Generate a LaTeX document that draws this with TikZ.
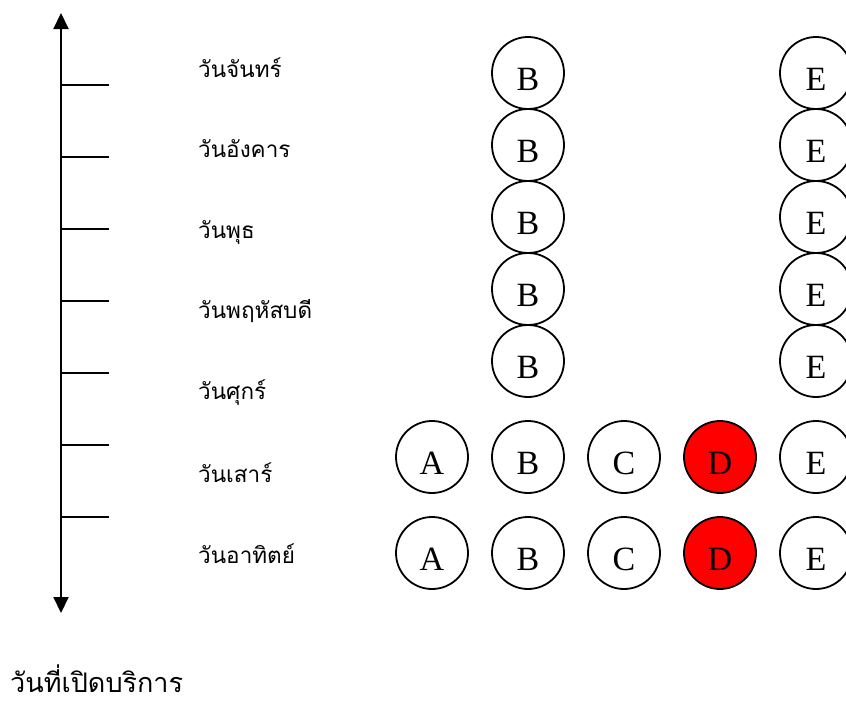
\documentclass[tikz,border=0pt]{standalone}
\usepackage{fontspec}
\newfontfamily\thaifont[Script=Thai]{Loma}
\newfontfamily\letterfont{Liberation Serif}
\usetikzlibrary{arrows.meta}
\definecolor{dred}{RGB}{255,0,0}
\tikzset{
  day/.style={circle, draw, line width=1.8pt, minimum size=72pt, inner sep=0pt,
    font=\letterfont\fontsize{34}{40}\selectfont, text height=34pt, text depth=0pt},
  dayred/.style={day, fill=dred},
  daylabel/.style={anchor=base west, inner sep=0pt, font=\thaifont\fontsize{22.5}{26}\selectfont},
  axisline/.style={line width=2pt, {Triangle[width=15pt,length=16pt]}-{Triangle[width=15pt,length=16pt]}},
  tick/.style={line width=1.5pt}
}
\begin{document}
\begin{tikzpicture}[x=1pt,y=-1pt]
\useasboundingbox (0,0) rectangle (846,704);
% axis
\coordinate (top) at (61,13);
\coordinate (bot) at (61,613);
\draw[axisline] (top) -- (bot);
\foreach \i/\y in {1/85,2/157,3/229,4/301,5/373,6/445,7/517}{
  \coordinate (t\i) at (61,\y);
  \coordinate (te\i) at (109,\y);
  \draw[tick] (t\i) -- (te\i);
}
% labels
\node[daylabel] (l1) at (198,77) {วันจันทร์};
\node[daylabel] (l2) at (198,157) {วันอังคาร};
\node[daylabel] (l3) at (198,238) {วันพุธ};
\node[daylabel] (l4) at (198,318) {วันพฤหัสบดี};
\node[daylabel] (l5) at (198,399) {วันศุกร์};
\node[daylabel] (l6) at (198,482) {วันเสาร์};
\node[daylabel] (l7) at (198,563) {วันอาทิตย์};
% circles
\foreach \i/\y in {1/73,2/145,3/217,4/289,5/361}{
  \node[day] (b\i) at (528,\y) {B};
  \node[day] (e\i) at (816,\y) {E};
}
\foreach \i/\y in {6/457,7/553}{
  \node[day] (a\i) at (432,\y) {A};
  \node[day] (b\i) at (528,\y) {B};
  \node[day] (c\i) at (624,\y) {C};
  \node[dayred] (d\i) at (720,\y) {D};
  \node[day] (e\i) at (816,\y) {E};
}
\node[anchor=base west, inner sep=0pt, text depth=0pt, font=\thaifont\fontsize{27}{32}\selectfont] (title) at (10,692) {วันที่เปิดบริการ};
\end{tikzpicture}
\end{document}
